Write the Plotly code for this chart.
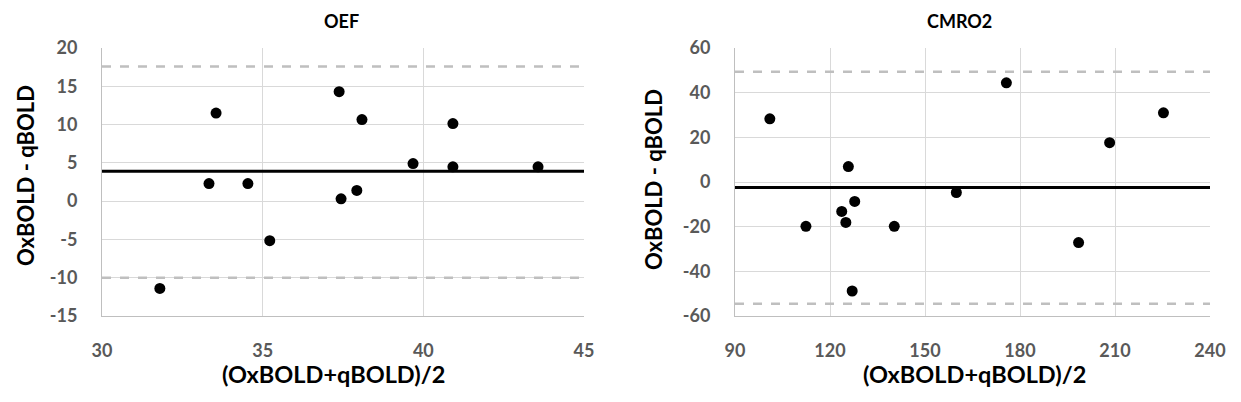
import plotly.graph_objects as go

W, H = 1241, 402

# OEF data
oef_mean = [31.8, 33.33, 33.55, 34.54, 35.22, 37.38, 37.44, 37.93, 38.09, 39.68, 40.92, 40.92, 43.57]
oef_diff = [-11.4, 2.3, 11.5, 2.3, -5.17, 14.3, 0.3, 1.4, 10.65, 4.9, 10.13, 4.48, 4.48]
oef_bias = 3.9
oef_loa = [17.6, -10.0]

# CMRO2 data
cmro_mean = [101.0, 112.4, 123.7, 125.0, 125.8, 127.0, 127.8, 140.3, 159.9, 175.7, 198.5, 208.3, 225.3]
cmro_diff = [28.3, -19.85, -13.2, -18.1, 6.9, -48.8, -8.7, -19.85, -4.7, 44.4, -27.1, 17.6, 31.0]
cmro_bias = -2.45
cmro_loa = [49.4, -54.5]

oef_xticks = [30, 35, 40, 45]
oef_yticks = [-15, -10, -5, 0, 5, 10, 15, 20]
cmro_xticks = [90, 120, 150, 180, 210, 240]
cmro_yticks = [-60, -40, -20, 0, 20, 40, 60]

FONT = "Lato"
TICKC = "#595959"
GRID = "#d9d9d9"
DASHC = "#bfbfbf"

fig = go.Figure()

def add_panel(xs, ys, bias, loa, xr, xa, ya):
    fig.add_trace(go.Scatter(x=xs, y=ys, mode="markers", xaxis=xa, yaxis=ya,
                             marker=dict(color="black", size=11), showlegend=False))
    fig.add_trace(go.Scatter(x=xr, y=[bias, bias], mode="lines", xaxis=xa, yaxis=ya,
                             line=dict(color="black", width=3), showlegend=False))
    for v in loa:
        fig.add_trace(go.Scatter(x=xr, y=[v, v], mode="lines", xaxis=xa, yaxis=ya,
                                 line=dict(color=DASHC, width=2.5, dash="dash"), showlegend=False))

add_panel(oef_mean, oef_diff, oef_bias, oef_loa, [oef_xticks[0], oef_xticks[-1]], "x", "y")
add_panel(cmro_mean, cmro_diff, cmro_bias, cmro_loa, [cmro_xticks[0], cmro_xticks[-1]], "x2", "y2")

ydom = [1 - 316 / H, 1 - 48 / H]

def axis(dom, ticks, anchor, standoff):
    return dict(domain=dom, range=[ticks[0], ticks[-1]], tickvals=ticks,
                ticktext=["<b>%d</b>" % t for t in ticks], anchor=anchor,
                automargin=False,
                showgrid=True, gridcolor=GRID, gridwidth=1, zeroline=False,
                showline=True, linecolor="#bfbfbf", linewidth=1, mirror=False,
                ticks="", ticklabelstandoff=standoff,
                tickfont=dict(family=FONT, size=18, color=TICKC))

fig.update_layout(
    template="none",
    width=W, height=H,
    margin=dict(l=0, r=0, t=0, b=0),
    paper_bgcolor="white", plot_bgcolor="white",
    xaxis=axis([102 / W, 584 / W], oef_xticks, "y", 18),
    yaxis=axis(ydom, oef_yticks, "x", 20),
    xaxis2=axis([735 / W, 1210 / W], cmro_xticks, "y2", 18),
    yaxis2=axis(ydom, cmro_yticks, "x2", 20),
)

def ann(text, x, y, size, angle=0):
    fig.add_annotation(text="<b>%s</b>" % text, x=x / W, y=1 - y / H, xref="paper", yref="paper",
                       showarrow=False, textangle=angle, xanchor="center", yanchor="middle",
                       font=dict(family=FONT, size=size, color="black"))

ann("OEF", 341, 21, 18)
ann("CMRO2", 959, 21, 18)
ann("(OxBOLD+qBOLD)/2", 333, 374, 23.5)
ann("(OxBOLD+qBOLD)/2", 974, 374, 23.5)
ann("OxBOLD - qBOLD", 25, 176, 22, -90)
ann("OxBOLD - qBOLD", 654, 180, 22, -90)

fig.write_html("out.html", config={"displayModeBar": False},
               post_script="document.body.style.margin='0';")
